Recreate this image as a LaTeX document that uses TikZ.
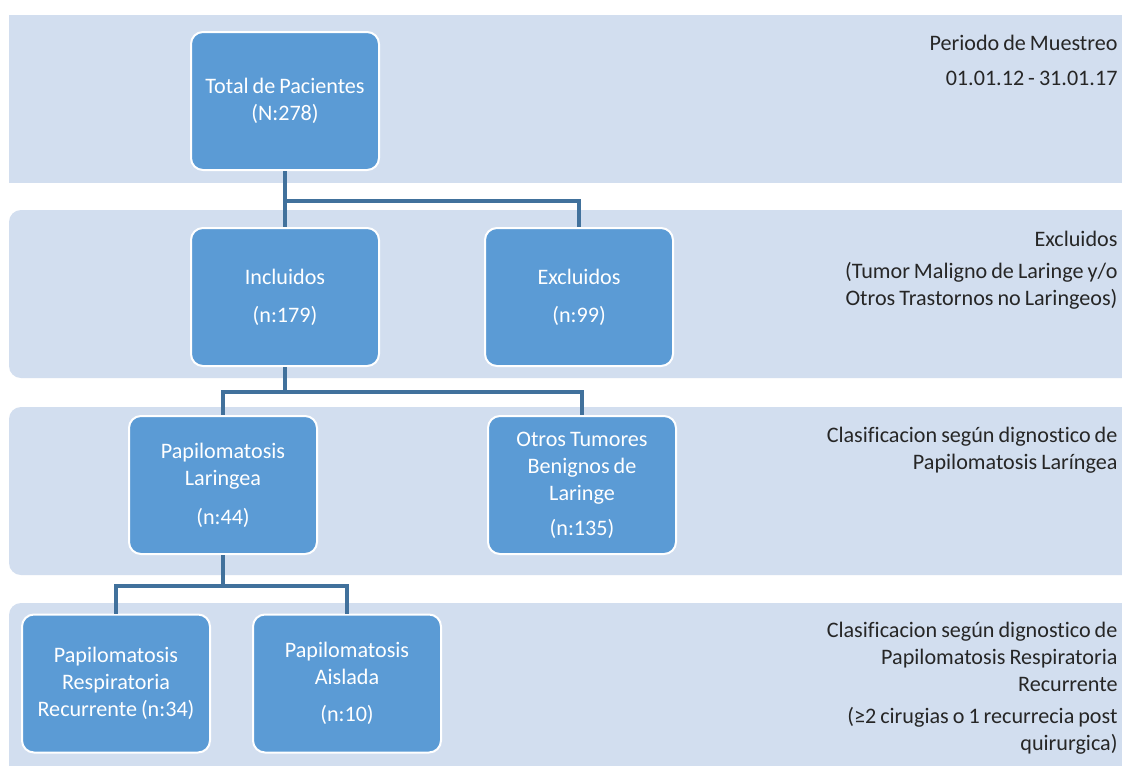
\documentclass[tikz,border=0pt]{standalone}
\usepackage{fontspec}
\setmainfont[Ligatures=NoCommon, WordSpace=0.8]{Carlito}
\definecolor{bandfill}{RGB}{210,222,239}
\definecolor{boxfill}{RGB}{91,155,213}
\definecolor{linkcol}{RGB}{65,113,156}
\definecolor{notecol}{RGB}{38,38,38}
\tikzset{every picture/.style={line width=0.75pt}}
\tikzset{
  stagebox/.style={draw=white, line width=1.5pt, fill=boxfill, rounded corners=9pt,
    minimum width=141pt, minimum height=103.5pt, text=white, align=center,
    font=\fontsize{16.6}{20.25}\selectfont, inner sep=0pt},
  band/.style={fill=bandfill, draw=none},
  note/.style={anchor=east, align=right, text=notecol, inner sep=0pt,
    font=\fontsize{16.6}{20.25}\selectfont},
  link/.style={draw=linkcol, line width=2.3pt}
}
\begin{document}
\begin{tikzpicture}[x=0.75pt,y=0.75pt,yscale=-1,xscale=1]
\useasboundingbox (0,0) rectangle (1122,765);

% Bands
\fill[white] (0,0) rectangle (1122,765);
\path[band] (9,15) rectangle (1122,183);
\path[band, rounded corners=9pt] (9,210) rectangle (1140,378);
\path[band, rounded corners=9pt] (9,407) rectangle (1140,575);
\path[band, rounded corners=9pt] (9,603) rectangle (1140,790);

% Boxes
\node[stagebox] (total) at (285,101) {Total de Pacientes\\(N:278)};
\node[stagebox] (incl) at (285,297) {Incluidos\\[8.25pt](n:179)};
\node[stagebox] (excl) at (579,297) {Excluidos\\[8.25pt](n:99)};
\node[stagebox] (papl) at (223,485) {Papilomatosis\\Laringea\\[9pt](n:44)};
\node[stagebox] (otros) at (582,485) {Otros Tumores\\Benignos de\\Laringe\\[6pt](n:135)};
\node[stagebox] (prr) at (116,683.5) {Papilomatosis\\Respiratoria\\Recurrente (n:34)};
\node[stagebox] (aisl) at (347,683.5) {Papilomatosis\\Aislada\\[7.5pt](n:10)};

% Notes
\node[note] (n1) at (1118,60.5) {Periodo de Muestreo\\[6pt]01.01.12 - 31.01.17};
\node[note] (n2) at (1118,270) {Excluidos\\[3.75pt](Tumor Maligno de Laringe y/o\\Otros Trastornos no Laringeos)};
\node[note] (n3) at (1118,450) {Clasificacion según dignostico de\\Papilomatosis Laríngea};
\node[note] (n4) at (1118,688.5) {Clasificacion según dignostico de\\Papilomatosis Respiratoria\\Recurrente\\[3.75pt](≥2 cirugias o 1 recurrecia post\\quirurgica)};

% Connection
\draw[link] (total.south) -- (incl.north);
\draw[link] (total.south) -- ++(0,30) -| (excl.north);
% Connection
\draw[link] (incl.south) -- ++(0,25) coordinate (j2) -| (papl.north);
\draw[link] (j2) -| (otros.north);
% Connection
\draw[link] (papl.south) -- ++(0,31) coordinate (j3) -| (prr.north);
\draw[link] (j3) -| (aisl.north);

\end{tikzpicture}
\end{document}
